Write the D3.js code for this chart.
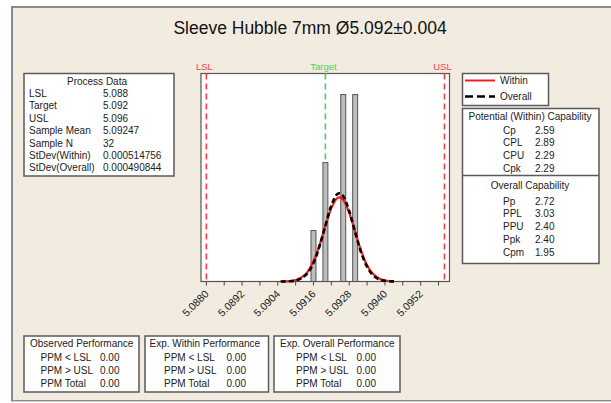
<!DOCTYPE html>
<html>
<head>
<meta charset="utf-8">
<script src="https://cdn.jsdelivr.net/npm/d3@7"></script>
<style>
  html, body { margin: 0; padding: 0; background: #ffffff; }
  svg { display: block; font-family: "Liberation Sans", Arial, sans-serif; }
</style>
</head>
<body>
<svg id="chart" width="611" height="403"></svg>
<script>
// ---- data ----
const title = "Sleeve Hubble 7mm Ø5.092±0.004";
const LSL = 5.088, TARGET = 5.092, USL = 5.096;

const binMids = [5.0916, 5.0920, 5.0926, 5.0930];
const binCounts = [3, 7, 11, 11];
const binWidth = 0.0002;

const tickValues = [5.0880, 5.0892, 5.0904, 5.0916, 5.0928, 5.0940, 5.0952];
const minorTicks = [5.0880, 5.0886, 5.0892, 5.0898, 5.0904, 5.0910, 5.0916, 5.0922, 5.0928,
                    5.0934, 5.0940, 5.0946, 5.0952, 5.0958];

// fitted curves, read as counts per bin
const curveX = [5.0905, 5.0906, 5.0908, 5.0910, 5.0912, 5.0914, 5.0916, 5.0918, 5.0920, 5.0922,
                5.0924, 5.0925, 5.0926, 5.0928, 5.0930, 5.0932, 5.0934, 5.0936, 5.0938, 5.0940,
                5.0942, 5.0943];
const withinY = [0.004, 0.007, 0.026, 0.085, 0.24, 0.57, 1.19, 2.13, 3.27, 4.32,
                 4.91, 4.95, 4.80, 4.04, 2.92, 1.81, 0.96, 0.45, 0.18, 0.06,
                 0.018, 0.009];
const overallY = [0.002, 0.004, 0.016, 0.06, 0.19, 0.49, 1.09, 2.06, 3.29, 4.47,
                  5.15, 5.19, 5.02, 4.15, 2.90, 1.71, 0.87, 0.37, 0.13, 0.04,
                  0.01, 0.005];

const processData = [
  ["LSL", "5.088"], ["Target", "5.092"], ["USL", "5.096"], ["Sample Mean", "5.09247"],
  ["Sample N", "32"], ["StDev(Within)", "0.000514756"], ["StDev(Overall)", "0.000490844"]
];
const withinCap = [["Cp", "2.59"], ["CPL", "2.89"], ["CPU", "2.29"], ["Cpk", "2.29"]];
const overallCap = [["Pp", "2.72"], ["PPL", "3.03"], ["PPU", "2.40"], ["Ppk", "2.40"], ["Cpm", "1.95"]];
const perfTitles = ["Observed Performance", "Exp. Within Performance", "Exp. Overall Performance"];
const perfLabels = ["PPM < LSL", "PPM > USL", "PPM Total"];
const perfValues = [["0.00", "0.00", "0.00"], ["0.00", "0.00", "0.00"], ["0.00", "0.00", "0.00"]];

// ---- layout ----
const bg = "#f2ebe0";
const boxStroke = "#5a5a5a";
const svg = d3.select("#chart");

svg.append("rect").attr("x", 0).attr("y", 0).attr("width", 611).attr("height", 403).attr("fill", "#ffffff");
svg.append("rect").attr("x", 12).attr("y", 7).attr("width", 610).attr("height", 394)
    .attr("fill", bg).attr("stroke", "#8a8a8a").attr("stroke-width", 2);
svg.append("line").attr("x1", 11).attr("x2", 611).attr("y1", 401.5).attr("y2", 401.5)
    .attr("stroke", "#d4d0c8").attr("stroke-width", 1);

svg.append("text").attr("x", 310).attr("y", 34).attr("text-anchor", "middle")
    .attr("font-size", 17.5).attr("fill", "#111").text(title);

// plot area
const plot = { left: 201, top: 73.5, right: 449.5, bottom: 281.5 };
const x = d3.scaleLinear()
    .domain([5.08782, 5.09617])
    .range([plot.left, plot.right]);
const y = d3.scaleLinear()
    .domain([0, 12.24])
    .range([plot.bottom, plot.top]);

svg.append("rect")
    .attr("x", plot.left).attr("y", plot.top)
    .attr("width", plot.right - plot.left).attr("height", plot.bottom - plot.top)
    .attr("fill", "#ffffff").attr("stroke", "#555").attr("stroke-width", 1.2);

// spec lines (under the bars)
const specs = [
  { v: LSL, label: "LSL", color: "#ff3a4a" },
  { v: TARGET, label: "Target", color: "#4cd060" },
  { v: USL, label: "USL", color: "#ff3a4a" }
];
svg.append("g").selectAll("line")
    .data(specs)
    .join("line")
        .attr("x1", d => x(d.v)).attr("x2", d => x(d.v))
        .attr("y1", plot.top).attr("y2", plot.bottom)
        .attr("stroke", d => d.color)
        .attr("stroke-width", 1.6)
        .attr("stroke-dasharray", "6,4");
svg.append("g").selectAll("text")
    .data(specs)
    .join("text")
        .attr("x", d => x(d.v) - 2)
        .attr("y", 70)
        .attr("text-anchor", "middle")
        .attr("font-size", 9.5)
        .attr("fill", d => d.color)
        .text(d => d.label);

// bars
svg.append("g").selectAll("rect")
    .data(binMids.map((m, i) => ({ m, c: binCounts[i] })))
    .join("rect")
        .attr("x", d => x(d.m - binWidth / 2) + 0.5)
        .attr("y", d => y(d.c))
        .attr("width", d => x(d.m + binWidth / 2) - x(d.m - binWidth / 2) - 1)
        .attr("height", d => y(0) - y(d.c))
        .attr("fill", "#bdbdbd")
        .attr("stroke", "#555")
        .attr("stroke-width", 1);

// curves
const line = d3.line()
    .x(d => x(d[0]))
    .y(d => y(d[1]))
    .curve(d3.curveCatmullRom);
svg.append("path")
    .datum(curveX.map((v, i) => [v, withinY[i]]))
    .attr("d", line)
    .attr("fill", "none").attr("stroke", "#ff1a1a").attr("stroke-width", 2.2);
svg.append("path")
    .datum(curveX.map((v, i) => [v, overallY[i]]))
    .attr("d", line)
    .attr("fill", "none").attr("stroke", "#000").attr("stroke-width", 2.6)
    .attr("stroke-dasharray", "5,3");

// x axis
const axis = svg.append("g")
    .attr("transform", `translate(0,${plot.bottom})`);
axis.selectAll("line")
    .data(minorTicks)
    .join("line")
        .attr("x1", d => x(d)).attr("x2", d => x(d))
        .attr("y1", 0).attr("y2", 4)
        .attr("stroke", "#444");
axis.selectAll("text")
    .data(tickValues)
    .join("text")
        .attr("transform", d => `translate(${x(d) + 3},${13}) rotate(-45)`)
        .attr("text-anchor", "end")
        .attr("font-size", 10.5)
        .attr("fill", "#222")
        .text(d => d.toFixed(4));

// generic table box
const drawBox = (x0, y0, w, h) => {
  svg.append("rect").attr("x", x0).attr("y", y0).attr("width", w).attr("height", h)
      .attr("fill", "#ffffff").attr("stroke", boxStroke).attr("stroke-width", 1.5);
};
const fs = 10;

// process data
drawBox(24, 73.5, 150, 102.5);
svg.append("text").attr("x", 97).attr("y", 84.5).attr("text-anchor", "middle")
    .attr("font-size", fs).attr("fill", "#222").text("Process Data");
const pd = svg.append("g").selectAll("g")
    .data(processData)
    .join("g")
        .attr("transform", (d, i) => `translate(0,${97 + i * 12.4})`);
pd.append("text").attr("x", 29).attr("font-size", fs).attr("fill", "#222").text(d => d[0]);
pd.append("text").attr("x", 103).attr("font-size", fs).attr("fill", "#222").text(d => d[1]);

// legend
drawBox(462.5, 73.5, 86, 32);
svg.append("line").attr("x1", 465).attr("x2", 495).attr("y1", 80.5).attr("y2", 80.5)
    .attr("stroke", "#ff1a1a").attr("stroke-width", 2);
svg.append("line").attr("x1", 465).attr("x2", 495).attr("y1", 96.5).attr("y2", 96.5)
    .attr("stroke", "#000").attr("stroke-width", 2.6).attr("stroke-dasharray", "8,4");
svg.append("text").attr("x", 500).attr("y", 84).attr("font-size", fs).attr("fill", "#222").text("Within");
svg.append("text").attr("x", 500).attr("y", 100).attr("font-size", fs).attr("fill", "#222").text("Overall");

// capability box
drawBox(462.5, 108.5, 136.5, 155);
svg.append("line").attr("x1", 462.5).attr("x2", 599).attr("y1", 175.5).attr("y2", 175.5)
    .attr("stroke", boxStroke).attr("stroke-width", 1.5);
svg.append("text").attr("x", 530).attr("y", 120).attr("text-anchor", "middle")
    .attr("font-size", fs).attr("fill", "#222").text("Potential (Within) Capability");
const wc = svg.append("g").selectAll("g")
    .data(withinCap)
    .join("g")
        .attr("transform", (d, i) => `translate(0,${133.5 + i * 12.8})`);
wc.append("text").attr("x", 503).attr("font-size", fs).attr("fill", "#222").text(d => d[0]);
wc.append("text").attr("x", 535).attr("font-size", fs).attr("fill", "#222").text(d => d[1]);
svg.append("text").attr("x", 530).attr("y", 188.5).attr("text-anchor", "middle")
    .attr("font-size", fs).attr("fill", "#222").text("Overall Capability");
const oc = svg.append("g").selectAll("g")
    .data(overallCap)
    .join("g")
        .attr("transform", (d, i) => `translate(0,${204.5 + i * 12.9})`);
oc.append("text").attr("x", 503).attr("font-size", fs).attr("fill", "#222").text(d => d[0]);
oc.append("text").attr("x", 535).attr("font-size", fs).attr("fill", "#222").text(d => d[1]);

// performance boxes
const perfBoxes = [
  { x0: 24, w: 115, tx: 30, lx: 40.5, vx: 100 },
  { x0: 145, w: 123.5, tx: 149.5, lx: 164, vx: 226.5 },
  { x0: 274, w: 126, tx: 280, lx: 296, vx: 356.5 }
];
perfBoxes.forEach((b, k) => {
  drawBox(b.x0, 336, b.w, 56);
  svg.append("text").attr("x", b.tx).attr("y", 347).attr("font-size", fs).attr("fill", "#222")
      .text(perfTitles[k]);
  perfLabels.forEach((lab, i) => {
    svg.append("text").attr("x", b.lx).attr("y", 360.5 + i * 13.2).attr("font-size", fs)
        .attr("fill", "#222").text(lab);
    svg.append("text").attr("x", b.vx).attr("y", 360.5 + i * 13.2).attr("font-size", fs)
        .attr("fill", "#222").text(perfValues[k][i]);
  });
});
</script>
</body>
</html>
